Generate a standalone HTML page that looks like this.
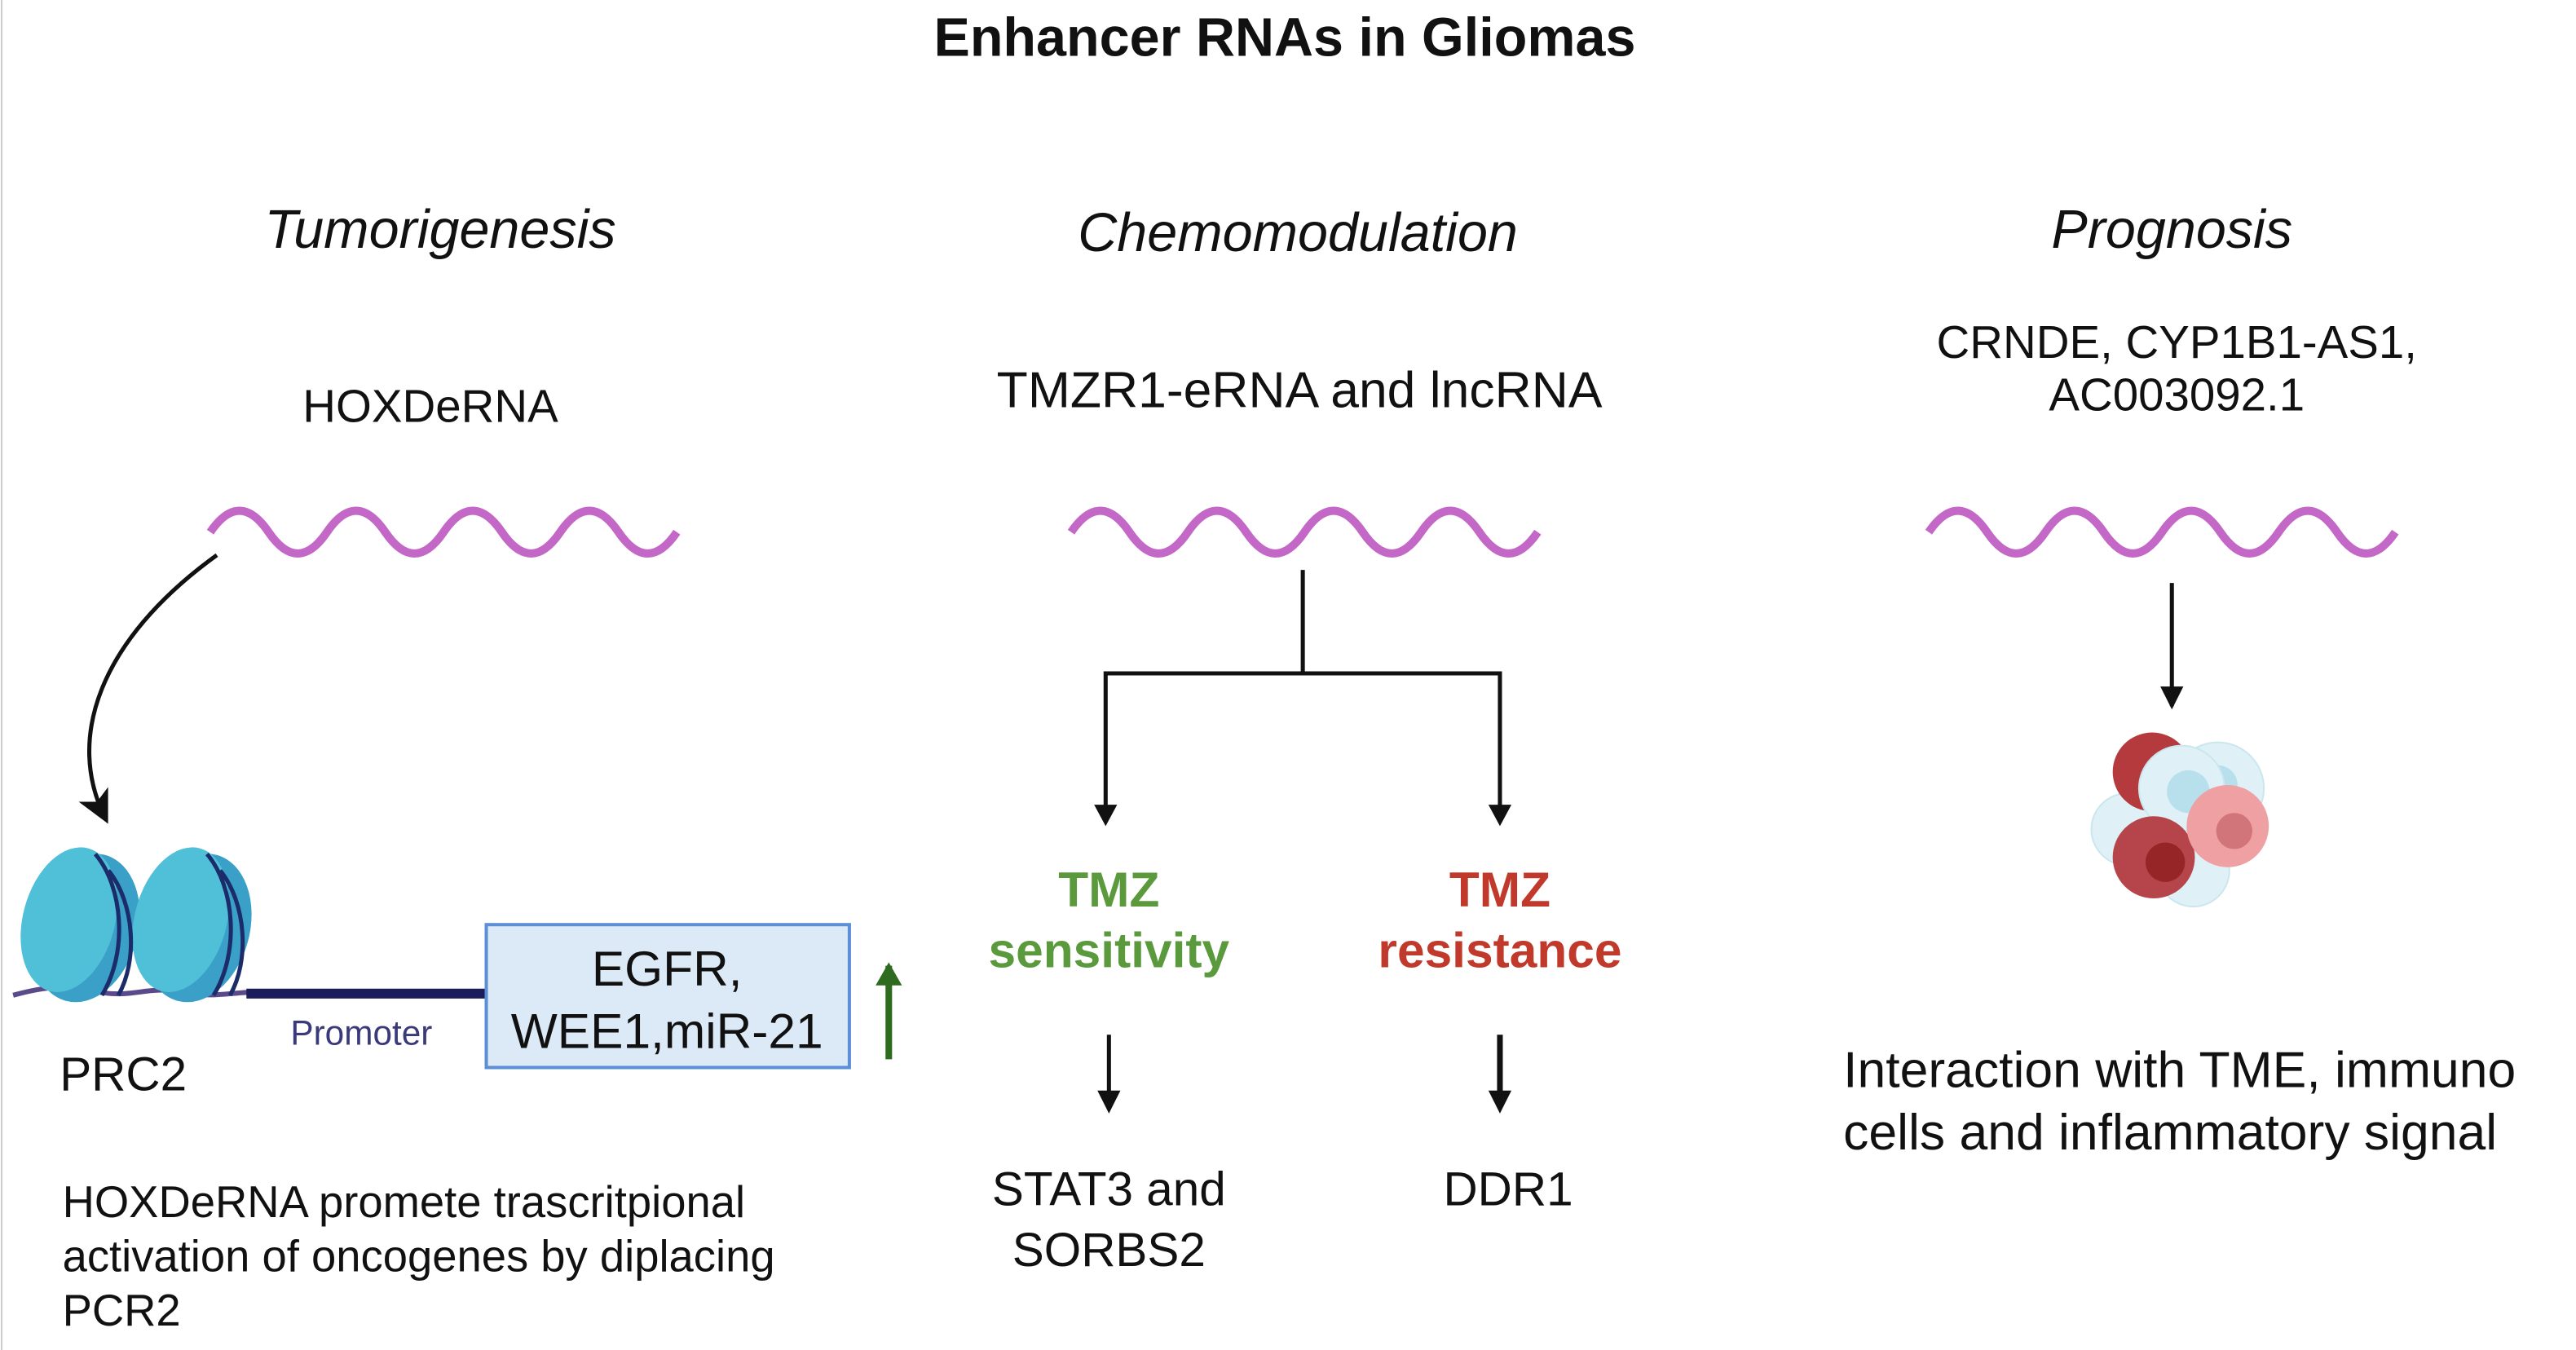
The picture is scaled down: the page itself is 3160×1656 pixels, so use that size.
<!DOCTYPE html>
<html><head><meta charset="utf-8"><style>
html,body{margin:0;padding:0;background:#fff;width:3160px;height:1656px;overflow:hidden}
svg{display:block}
text{font-family:"Liberation Sans",sans-serif;fill:#111}
</style></head><body>
<svg width="3160" height="1656" viewBox="0 0 1568 822" preserveAspectRatio="none">
<defs>
<marker id="ah" markerWidth="14" markerHeight="14" refX="10" refY="7" orient="auto" markerUnits="userSpaceOnUse"><path d="M0,0 L14,7 L0,14 Z" fill="#111"/></marker>
<marker id="ahb" markerWidth="20" markerHeight="20" refX="16" refY="10" orient="auto" markerUnits="userSpaceOnUse"><path d="M0,0 L20,10 L0,20 L5,10 Z" fill="#111"/></marker>
<marker id="ahs" markerWidth="14" markerHeight="14" refX="12" refY="7" orient="auto" markerUnits="userSpaceOnUse"><path d="M0,0 L14,7 L0,14 Z" fill="#111"/></marker>
<marker id="ahg" markerWidth="14" markerHeight="16" refX="12" refY="8" orient="auto" markerUnits="userSpaceOnUse"><path d="M0,0 L14,8 L0,16 Z" fill="#2e6b1e"/></marker>
<path id="wave" d="M0,0 q17.75,-26 35.5,0 t35.5,0 t35.5,0 t35.5,0 t35.5,0 t35.5,0 t35.5,0 t35.5,0" fill="none" stroke="#c468c8" stroke-width="5"/>
</defs>
<line x1="1" y1="0" x2="1" y2="822" stroke="#ccc" stroke-width="1"/>
<text x="782" y="34" font-size="33" font-weight="bold" text-anchor="middle">Enhancer RNAs in Gliomas</text>
<g font-size="33" font-style="italic" text-anchor="middle">
<text x="268" y="151">Tumorigenesis</text>
<text x="790" y="153">Chemomodulation</text>
<text x="1322" y="151">Prognosis</text>
</g>
<g text-anchor="middle">
<text x="262" y="257" font-size="28">HOXDeRNA</text>
<text x="791" y="248" font-size="31">TMZR1-eRNA and lncRNA</text>
<text x="1325" y="218" font-size="28">CRNDE, CYP1B1-AS1,</text>
<text x="1325" y="250" font-size="28">AC003092.1</text>
</g>
<use href="#wave" x="128" y="324"/>
<use href="#wave" x="652" y="324"/>
<use href="#wave" x="1174" y="324"/>
<path d="M132,338 C60,390 40,450 64,498" fill="none" stroke="#111" stroke-width="2.5" marker-end="url(#ahb)"/>
<g>
<path d="M8,606 C30,600 40,600 60,604 C80,608 90,600 110,604 C130,608 140,604 158,604" stroke="#5a4a8a" stroke-width="3" fill="none"/>
<ellipse cx="52" cy="565" rx="32" ry="46" fill="#3aa0c8" transform="rotate(15 52 565)"/>
<ellipse cx="42" cy="560" rx="28" ry="45" fill="#4fc0d8" transform="rotate(15 42 560)"/>
<ellipse cx="120" cy="565" rx="32" ry="46" fill="#3aa0c8" transform="rotate(15 120 565)"/>
<ellipse cx="110" cy="560" rx="28" ry="45" fill="#4fc0d8" transform="rotate(15 110 560)"/>
<path d="M58,520 C75,540 78,580 62,606 M66,530 C82,550 84,585 72,606 M126,520 C143,540 146,580 130,606 M134,530 C150,550 152,585 140,606" stroke="#1c2c6a" stroke-width="2.5" fill="none"/>
</g>
<line x1="150" y1="605" x2="296" y2="605" stroke="#1c1c5a" stroke-width="6"/>
<rect x="296" y="563" width="221" height="87" fill="#dce9f7" stroke="#5b8fd6" stroke-width="2"/>
<text x="406" y="600" font-size="30" text-anchor="middle">EGFR,</text>
<text x="406" y="638" font-size="30" text-anchor="middle">WEE1,miR-21</text>
<line x1="541" y1="645" x2="541" y2="588" stroke="#2e6b1e" stroke-width="4" marker-end="url(#ahg)"/>
<text x="220" y="636" font-size="21" text-anchor="middle" style="fill:#3a3a7a">Promoter</text>
<text x="75" y="664" font-size="29" text-anchor="middle">PRC2</text>
<g font-size="27">
<text x="38" y="741">HOXDeRNA promete trascritpional</text>
<text x="38" y="774">activation of oncogenes by diplacing</text>
<text x="38" y="807">PCR2</text>
</g>
<g stroke="#111" stroke-width="2.5" fill="none">
<line x1="793" y1="347" x2="793" y2="410"/>
<polyline points="673,500 673,410 913,410 913,500"/>
<line x1="675" y1="630" x2="675" y2="674" marker-end="url(#ah)"/>
<line x1="913" y1="630" x2="913" y2="674" stroke-width="3.5" marker-end="url(#ah)"/>
<line x1="1322" y1="355" x2="1322" y2="430" marker-end="url(#ahs)"/>
</g>
<path d="M666,490 L673,503 L680,490 Z M906,490 L913,503 L920,490 Z" fill="#111"/>
<g font-size="30" font-weight="bold" text-anchor="middle">
<text x="675" y="552" style="fill:#5a9a3c">TMZ</text>
<text x="675" y="589" style="fill:#5a9a3c">sensitivity</text>
<text x="913" y="552" style="fill:#c0392b">TMZ</text>
<text x="913" y="589" style="fill:#c0392b">resistance</text>
</g>
<g font-size="29" text-anchor="middle">
<text x="675" y="734">STAT3 and</text>
<text x="675" y="771">SORBS2</text>
<text x="918" y="734">DDR1</text>
</g>
<g>
<circle cx="1295" cy="505" r="22" fill="#dff1f7" stroke="#cbe6ee"/>
<circle cx="1335" cy="530" r="22" fill="#dff1f7" stroke="#cbe6ee"/>
<circle cx="1350" cy="480" r="28" fill="#dff1f7" stroke="#cbe6ee"/>
<circle cx="1350" cy="478" r="12" fill="#b7e0ec"/>
<circle cx="1310" cy="470" r="24" fill="#b53a3e"/>
<circle cx="1328" cy="480" r="26" fill="#dff1f7" stroke="#cbe6ee"/>
<circle cx="1332" cy="482" r="13" fill="#b7e0ec"/>
<circle cx="1311" cy="522" r="25" fill="#b5454a"/>
<circle cx="1318" cy="525" r="12" fill="#962528"/>
<circle cx="1356" cy="503" r="25" fill="#eea0a3"/>
<circle cx="1360" cy="506" r="11" fill="#d2757a"/>
</g>
<g font-size="31">
<text x="1122" y="662">Interaction with TME, immuno</text>
<text x="1122" y="700">cells and inflammatory signal</text>
</g>
</svg>
</body></html>
